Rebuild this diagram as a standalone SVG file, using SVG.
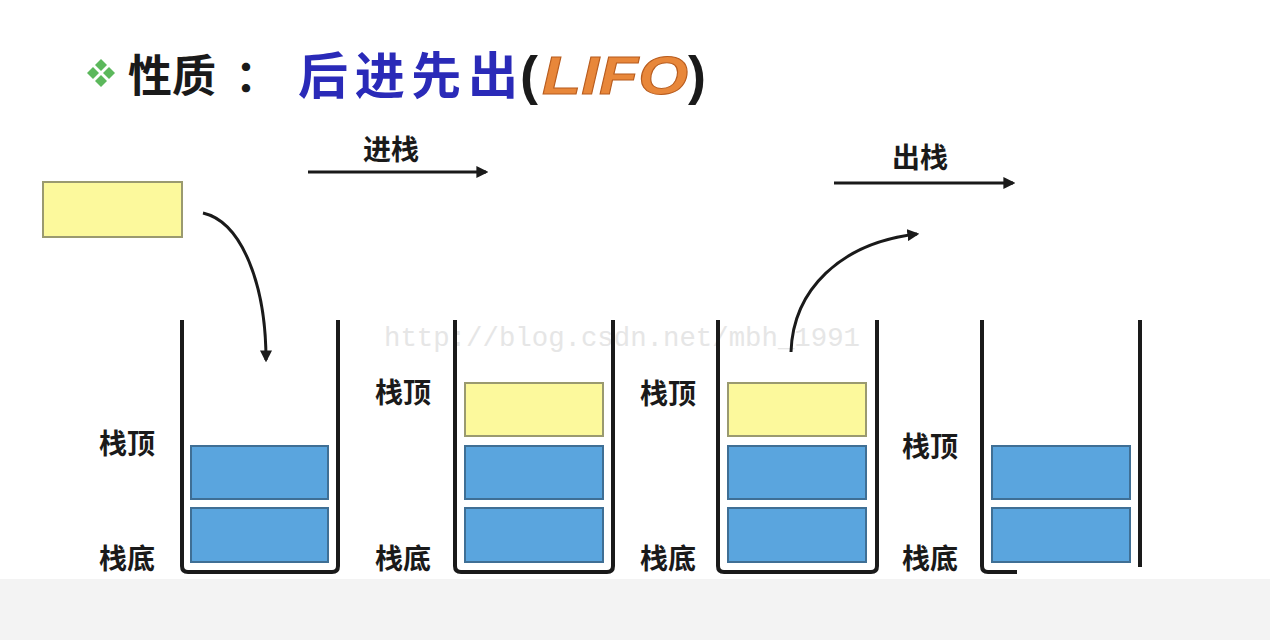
<svg xmlns="http://www.w3.org/2000/svg" width="1270" height="640" viewBox="0 0 1270 640">
<defs>
<marker id="ah" viewBox="0 0 10 10" refX="8" refY="5" markerWidth="4" markerHeight="4" orient="auto" markerUnits="strokeWidth">
<path d="M0,0 L10,5 L0,10 z" fill="#1a1a1a"/>
</marker>
<style>
.wall{fill:none;stroke:#1a1a1a;stroke-width:4;stroke-linejoin:round}
.blue{fill:#5aa5de;stroke:#3f6f95;stroke-width:2}
.yel{fill:#fcf99c;stroke:#9a9a70;stroke-width:2}
.lbl{font-family:"Noto Sans CJK SC",sans-serif;font-weight:700;font-size:28px;fill:#1a1a1a}
.arr{fill:none;stroke:#1a1a1a;stroke-width:3}
.cjk{font-family:"Noto Sans CJK SC",sans-serif;font-weight:700}
</style>
</defs>
<rect width="1270" height="640" fill="#ffffff"/>
<rect x="0" y="579" width="1270" height="61" fill="#f3f3f3"/>

<g id="title">
<g fill="#5cb85c">
<polygon points="101,59 107,65 101,71 95,65"/>
<polygon points="101,75 107,81 101,87 95,81"/>
<polygon points="93,67 99,73 93,79 87,73"/>
<polygon points="109,67 115,73 109,79 103,73"/>
</g>
<text x="128" y="92" class="cjk" font-size="44" fill="#1a1a1a">性质<tspan x="235">：</tspan></text>
<text x="298" y="94" class="cjk" font-size="50" fill="#2a2ab8" textLength="220" lengthAdjust="spacing">后进先出</text>
<text x="520" y="94" font-family="Liberation Sans, sans-serif" font-weight="700" font-size="54" fill="#1a1a1a">(</text>
<text x="542" y="94" font-family="Liberation Sans, sans-serif" font-weight="700" font-style="italic" font-size="54" fill="#e8873a" stroke="#b85c1e" stroke-width="1" textLength="146" lengthAdjust="spacingAndGlyphs">LIFO</text>
<text x="688" y="94" font-family="Liberation Sans, sans-serif" font-weight="700" font-size="54" fill="#1a1a1a">)</text>
</g>

<text x="384" y="346" font-family="Liberation Mono, monospace" font-size="27" fill="#e6e6e6" textLength="476" lengthAdjust="spacingAndGlyphs">http://blog.csdn.net/mbh_1991</text>

<g id="new-item">
<rect x="43" y="182" width="139" height="55" class="yel"/>
</g>

<g id="stack1">
<path class="wall" d="M182,320 V566 Q182,572 188,572 H332 Q338,572 338,566 V320"/>
<rect x="191" y="446" width="137" height="53" class="blue"/>
<rect x="191" y="508" width="137" height="54" class="blue"/>
<text x="99" y="454" class="lbl">栈顶</text>
<text x="99" y="569" class="lbl">栈底</text>
</g>

<g id="stack2">
<path class="wall" d="M455,320 V566 Q455,572 461,572 H607 Q613,572 613,566 V320"/>
<rect x="465" y="383" width="138" height="53" class="yel"/>
<rect x="465" y="446" width="138" height="53" class="blue"/>
<rect x="465" y="508" width="138" height="54" class="blue"/>
<text x="375" y="403" class="lbl">栈顶</text>
<text x="375" y="569" class="lbl">栈底</text>
</g>

<g id="stack3">
<path class="wall" d="M718,320 V566 Q718,572 724,572 H871 Q877,572 877,566 V320"/>
<rect x="728" y="383" width="138" height="53" class="yel"/>
<rect x="728" y="446" width="138" height="53" class="blue"/>
<rect x="728" y="508" width="138" height="54" class="blue"/>
<text x="640" y="404" class="lbl">栈顶</text>
<text x="640" y="569" class="lbl">栈底</text>
</g>

<g id="stack4">
<path class="wall" d="M982,320 V566 Q982,572 988,572 H1017"/>
<path class="wall" d="M1140,320 V567"/>
<rect x="992" y="446" width="138" height="53" class="blue"/>
<rect x="992" y="508" width="138" height="54" class="blue"/>
<text x="902" y="457" class="lbl">栈顶</text>
<text x="902" y="569" class="lbl">栈底</text>
</g>

<g id="connectors">
<path class="arr" d="M308,172 H486" marker-end="url(#ah)"/>
<text x="363" y="160" class="lbl" font-size="26">进栈</text>
<path class="arr" d="M834,183 H1013" marker-end="url(#ah)"/>
<text x="892" y="168" class="lbl" font-size="26">出栈</text>
<path class="arr" d="M203,213 C242,222 266,285 266,360" marker-end="url(#ah)"/>
<path class="arr" d="M791,352 C793,290 840,243 917,234" marker-end="url(#ah)"/>
</g>
</svg>
